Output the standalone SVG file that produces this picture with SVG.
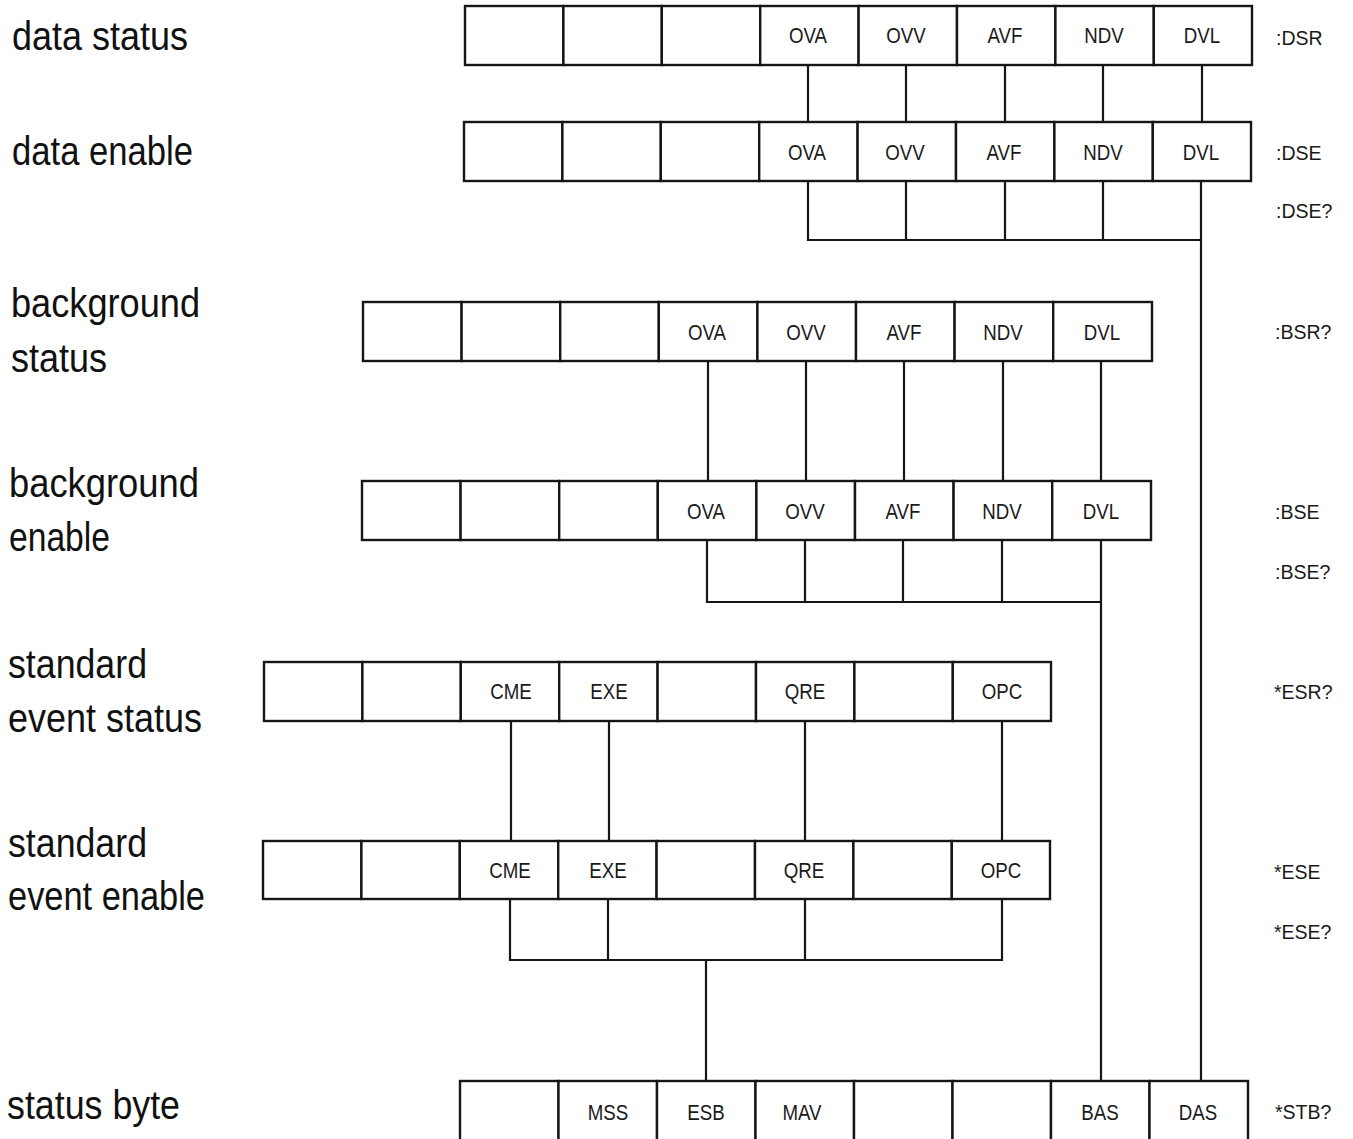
<svg xmlns="http://www.w3.org/2000/svg" width="1353" height="1139" viewBox="0 0 1353 1139">
  <style>
    .cell { fill: #fff; stroke: #161616; stroke-width: 2.4; }
    .wire { fill: none; stroke: #161616; stroke-width: 2.2; stroke-linecap: square; }
    .bit { font-family: "Liberation Sans", Arial, sans-serif; font-size: 22px; fill: #1a1a1a; text-anchor: middle;
           transform-box: fill-box; transform-origin: center; transform: scaleX(0.85); }
    .cmd { font-family: "Liberation Sans", Arial, sans-serif; font-size: 19.5px; fill: #1a1a1a; }
    .name { font-family: "Liberation Sans", Arial, sans-serif; font-size: 40px; fill: #111; }
  </style>

  <rect width="1353" height="1139" fill="#fff"/>

  <!-- register names, left column -->
  <g id="names">
    <text class="name" x="12" y="50" textLength="176" lengthAdjust="spacingAndGlyphs">data status</text>
    <text class="name" x="12" y="165" textLength="181" lengthAdjust="spacingAndGlyphs">data enable</text>
    <text class="name" x="11" y="317" textLength="189" lengthAdjust="spacingAndGlyphs">background</text>
    <text class="name" x="11" y="372" textLength="96" lengthAdjust="spacingAndGlyphs">status</text>
    <text class="name" x="9" y="497" textLength="190" lengthAdjust="spacingAndGlyphs">background</text>
    <text class="name" x="9" y="551" textLength="101" lengthAdjust="spacingAndGlyphs">enable</text>
    <text class="name" x="8" y="678" textLength="139" lengthAdjust="spacingAndGlyphs">standard</text>
    <text class="name" x="8" y="732" textLength="194" lengthAdjust="spacingAndGlyphs">event status</text>
    <text class="name" x="8" y="857" textLength="139" lengthAdjust="spacingAndGlyphs">standard</text>
    <text class="name" x="8" y="910" textLength="197" lengthAdjust="spacingAndGlyphs">event enable</text>
    <text class="name" x="7" y="1119" textLength="173" lengthAdjust="spacingAndGlyphs">status byte</text>
  </g>

  <!-- SCPI commands, right column -->
  <g id="commands">
    <text class="cmd" x="1276" y="45">:DSR</text>
    <text class="cmd" x="1276" y="160">:DSE</text>
    <text class="cmd" x="1276" y="218">:DSE?</text>
    <text class="cmd" x="1275" y="339">:BSR?</text>
    <text class="cmd" x="1275" y="519">:BSE</text>
    <text class="cmd" x="1275" y="579">:BSE?</text>
    <text class="cmd" x="1274" y="699">*ESR?</text>
    <text class="cmd" x="1274" y="879">*ESE</text>
    <text class="cmd" x="1274" y="939">*ESE?</text>
    <text class="cmd" x="1275" y="1119">*STB?</text>
  </g>

  <!-- bit connections between registers -->
  <g id="connectors">
    <!-- data status -> data enable -->
    <path class="wire" d="M808 65V122 M906 65V122 M1005 65V122 M1103 65V122 M1202 65V122"/>
    <!-- data enable summary -> DAS -->
    <path class="wire" d="M808 181V240H1201 M906 181V240 M1005 181V240 M1103 181V240 M1201 181V1081"/>
    <!-- background status -> background enable -->
    <path class="wire" d="M708 361V481 M806 361V481 M904 361V481 M1003 361V481 M1101 361V481"/>
    <!-- background enable summary -> BAS -->
    <path class="wire" d="M707 540V602H1101 M805 540V602 M903 540V602 M1002 540V602 M1101 540V1081"/>
    <!-- standard event status -> standard event enable -->
    <path class="wire" d="M511 721V841 M609 721V841 M805 721V841 M1002 721V841"/>
    <!-- standard event enable summary -> ESB -->
    <path class="wire" d="M510 899V960H1002 M608 899V960 M805 899V960 M1002 899V960 M706 960V1081"/>
  </g>

  <!-- data status register -->
  <g id="data-status">
    <rect class="cell" x="465" y="6" width="98.4" height="59"/>
    <rect class="cell" x="563.4" y="6" width="98.4" height="59"/>
    <rect class="cell" x="661.8" y="6" width="98.4" height="59"/>
    <rect class="cell" x="760.2" y="6" width="98.4" height="59"/>
    <rect class="cell" x="858.6" y="6" width="98.4" height="59"/>
    <rect class="cell" x="957" y="6" width="98.4" height="59"/>
    <rect class="cell" x="1055.4" y="6" width="98.4" height="59"/>
    <rect class="cell" x="1153.8" y="6" width="98.2" height="59"/>
    <text class="bit" x="808" y="43.5">OVA</text>
    <text class="bit" x="906" y="43.5">OVV</text>
    <text class="bit" x="1005" y="43.5">AVF</text>
    <text class="bit" x="1104" y="43.5">NDV</text>
    <text class="bit" x="1202" y="43.5">DVL</text>
  </g>

  <!-- data enable register -->
  <g id="data-enable">
    <rect class="cell" x="464" y="122" width="98.4" height="59"/>
    <rect class="cell" x="562.4" y="122" width="98.4" height="59"/>
    <rect class="cell" x="660.8" y="122" width="98.4" height="59"/>
    <rect class="cell" x="759.2" y="122" width="98.4" height="59"/>
    <rect class="cell" x="857.6" y="122" width="98.4" height="59"/>
    <rect class="cell" x="956" y="122" width="98.4" height="59"/>
    <rect class="cell" x="1054.4" y="122" width="98.4" height="59"/>
    <rect class="cell" x="1152.8" y="122" width="98.2" height="59"/>
    <text class="bit" x="807" y="160">OVA</text>
    <text class="bit" x="905" y="160">OVV</text>
    <text class="bit" x="1004" y="160">AVF</text>
    <text class="bit" x="1103" y="160">NDV</text>
    <text class="bit" x="1201" y="160">DVL</text>
  </g>

  <!-- background status register -->
  <g id="background-status">
    <rect class="cell" x="363" y="302" width="98.6" height="59"/>
    <rect class="cell" x="461.6" y="302" width="98.6" height="59"/>
    <rect class="cell" x="560.2" y="302" width="98.6" height="59"/>
    <rect class="cell" x="658.8" y="302" width="98.6" height="59"/>
    <rect class="cell" x="757.4" y="302" width="98.6" height="59"/>
    <rect class="cell" x="856" y="302" width="98.6" height="59"/>
    <rect class="cell" x="954.6" y="302" width="98.6" height="59"/>
    <rect class="cell" x="1053.2" y="302" width="98.8" height="59"/>
    <text class="bit" x="707" y="340">OVA</text>
    <text class="bit" x="806" y="340">OVV</text>
    <text class="bit" x="904" y="340">AVF</text>
    <text class="bit" x="1003" y="340">NDV</text>
    <text class="bit" x="1102" y="340">DVL</text>
  </g>

  <!-- background enable register -->
  <g id="background-enable">
    <rect class="cell" x="362" y="481" width="98.6" height="59"/>
    <rect class="cell" x="460.6" y="481" width="98.6" height="59"/>
    <rect class="cell" x="559.2" y="481" width="98.6" height="59"/>
    <rect class="cell" x="657.8" y="481" width="98.6" height="59"/>
    <rect class="cell" x="756.4" y="481" width="98.6" height="59"/>
    <rect class="cell" x="855" y="481" width="98.6" height="59"/>
    <rect class="cell" x="953.6" y="481" width="98.6" height="59"/>
    <rect class="cell" x="1052.2" y="481" width="98.8" height="59"/>
    <text class="bit" x="706" y="519">OVA</text>
    <text class="bit" x="805" y="519">OVV</text>
    <text class="bit" x="903" y="519">AVF</text>
    <text class="bit" x="1002" y="519">NDV</text>
    <text class="bit" x="1101" y="519">DVL</text>
  </g>

  <!-- standard event status register -->
  <g id="standard-event-status">
    <rect class="cell" x="264" y="662" width="98.4" height="59"/>
    <rect class="cell" x="362.4" y="662" width="98.4" height="59"/>
    <rect class="cell" x="460.8" y="662" width="98.4" height="59"/>
    <rect class="cell" x="559.2" y="662" width="98.4" height="59"/>
    <rect class="cell" x="657.6" y="662" width="98.4" height="59"/>
    <rect class="cell" x="756" y="662" width="98.4" height="59"/>
    <rect class="cell" x="854.4" y="662" width="98.4" height="59"/>
    <rect class="cell" x="952.8" y="662" width="98.2" height="59"/>
    <text class="bit" x="511" y="699.5">CME</text>
    <text class="bit" x="609" y="699.5">EXE</text>
    <text class="bit" x="805" y="699.5">QRE</text>
    <text class="bit" x="1002" y="699.5">OPC</text>
  </g>

  <!-- standard event enable register -->
  <g id="standard-event-enable">
    <rect class="cell" x="263" y="841" width="98.4" height="58"/>
    <rect class="cell" x="361.4" y="841" width="98.4" height="58"/>
    <rect class="cell" x="459.8" y="841" width="98.4" height="58"/>
    <rect class="cell" x="558.2" y="841" width="98.4" height="58"/>
    <rect class="cell" x="656.6" y="841" width="98.4" height="58"/>
    <rect class="cell" x="755" y="841" width="98.4" height="58"/>
    <rect class="cell" x="853.4" y="841" width="98.4" height="58"/>
    <rect class="cell" x="951.8" y="841" width="98.2" height="58"/>
    <text class="bit" x="510" y="878">CME</text>
    <text class="bit" x="608" y="878">EXE</text>
    <text class="bit" x="804" y="878">QRE</text>
    <text class="bit" x="1001" y="878">OPC</text>
  </g>

  <!-- status byte -->
  <g id="status-byte">
    <rect class="cell" x="460" y="1081" width="98.5" height="64"/>
    <rect class="cell" x="558.5" y="1081" width="98.5" height="64"/>
    <rect class="cell" x="657" y="1081" width="98.5" height="64"/>
    <rect class="cell" x="755.5" y="1081" width="98.5" height="64"/>
    <rect class="cell" x="854" y="1081" width="98.5" height="64"/>
    <rect class="cell" x="952.5" y="1081" width="98.5" height="64"/>
    <rect class="cell" x="1051" y="1081" width="98.5" height="64"/>
    <rect class="cell" x="1149.5" y="1081" width="98.5" height="64"/>
    <text class="bit" x="608" y="1120">MSS</text>
    <text class="bit" x="706" y="1120">ESB</text>
    <text class="bit" x="802" y="1120">MAV</text>
    <text class="bit" x="1100" y="1120">BAS</text>
    <text class="bit" x="1198" y="1120">DAS</text>
  </g>
</svg>
